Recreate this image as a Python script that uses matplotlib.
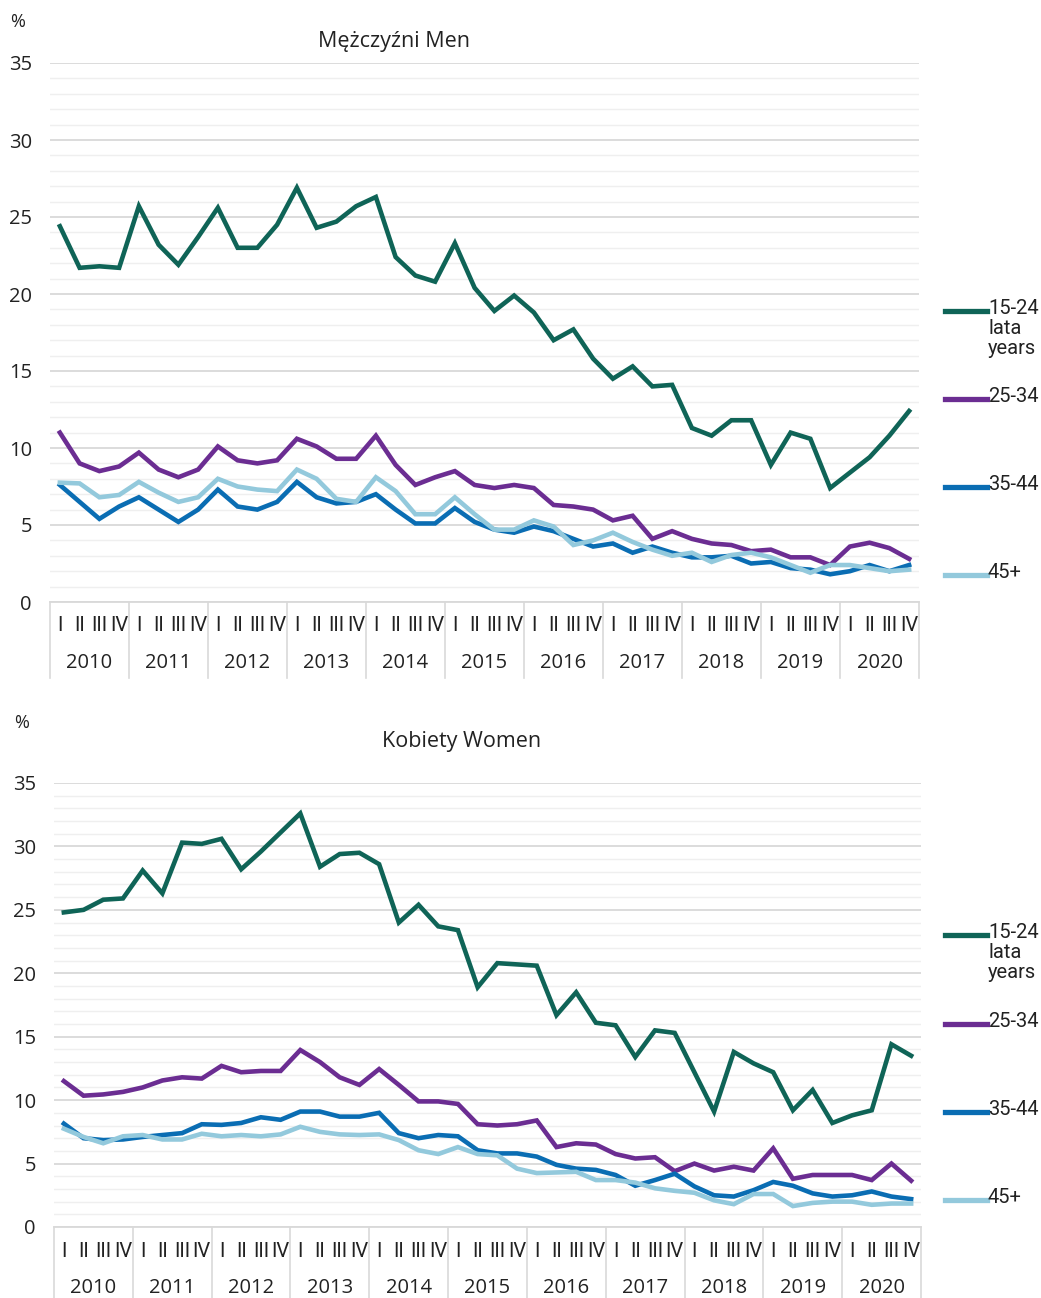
import numpy as np
import matplotlib
matplotlib.use('Agg')
import matplotlib.pyplot as plt
from matplotlib.lines import Line2D
from matplotlib.transforms import blended_transform_factory

plt.rcParams['font.family'] = ['Open Sans', 'DejaVu Sans']

years = ['2010', '2011', '2012', '2013', '2014', '2015', '2016', '2017', '2018', '2019', '2020']
quarters = ['I', 'II', 'III', 'IV']
groups = ['15-24\nlata\nyears', '25-34', '35-44', '45+']
colors = ['#0f6457', '#6b2d92', '#0a6db3', '#93c9dc']

# Mężczyźni / Men
men_15_24 = [24.4, 21.7, 21.8, 21.7, 25.7, 23.2, 21.9, 23.7, 25.6, 23.0, 23.0, 24.5,
             26.9, 24.3, 24.7, 25.7, 26.3, 22.4, 21.2, 20.8, 23.3, 20.4, 18.9, 19.9,
             18.8, 17.0, 17.7, 15.8, 14.5, 15.3, 14.0, 14.1, 11.3, 10.8, 11.8, 11.8,
             8.9, 11.0, 10.6, 7.4, 8.4, 9.4, 10.8, 12.4]
men_25_34 = [11.0, 9.0, 8.5, 8.8, 9.7, 8.6, 8.1, 8.6, 10.1, 9.2, 9.0, 9.2,
             10.6, 10.1, 9.3, 9.3, 10.8, 8.9, 7.6, 8.1, 8.5, 7.6, 7.4, 7.6,
             7.4, 6.3, 6.2, 6.0, 5.3, 5.6, 4.1, 4.6, 4.1, 3.8, 3.7, 3.3,
             3.4, 2.9, 2.9, 2.4, 3.6, 3.85, 3.5, 2.8]
men_35_44 = [7.6, 6.5, 5.4, 6.2, 6.8, 6.0, 5.2, 6.0, 7.3, 6.2, 6.0, 6.5,
             7.8, 6.8, 6.4, 6.5, 7.0, 6.0, 5.1, 5.1, 6.1, 5.2, 4.7, 4.5,
             4.9, 4.6, 4.1, 3.6, 3.8, 3.2, 3.6, 3.2, 2.9, 2.9, 3.0, 2.5,
             2.6, 2.2, 2.1, 1.8, 2.0, 2.4, 2.0, 2.4]
men_45 = [7.75, 7.7, 6.8, 6.95, 7.8, 7.1, 6.5, 6.8, 8.0, 7.5, 7.3, 7.2,
          8.6, 8.0, 6.7, 6.5, 8.1, 7.2, 5.7, 5.7, 6.8, 5.7, 4.7, 4.7,
          5.3, 4.9, 3.7, 4.0, 4.5, 3.9, 3.4, 3.0, 3.2, 2.6, 3.05, 3.2,
          2.9, 2.4, 1.9, 2.4, 2.4, 2.2, 2.0, 2.1]

# Kobiety / Women
women_15_24 = [24.8, 25.0, 25.8, 25.9, 28.1, 26.3, 30.3, 30.2, 30.6, 28.2, 29.6, 31.1,
               32.6, 28.4, 29.4, 29.5, 28.6, 24.0, 25.4, 23.7, 23.4, 18.9, 20.8, 20.7,
               20.6, 16.7, 18.5, 16.1, 15.9, 13.4, 15.5, 15.3, 12.2, 9.1, 13.8, 12.9,
               12.2, 9.2, 10.8, 8.2, 8.8, 9.2, 14.4, 13.5]
women_25_34 = [11.5, 10.35, 10.45, 10.65, 11.0, 11.55, 11.8, 11.7, 12.7, 12.2, 12.3, 12.3,
               13.95, 13.0, 11.8, 11.2, 12.45, 11.2, 9.9, 9.9, 9.7, 8.1, 8.0, 8.1,
               8.4, 6.3, 6.6, 6.5, 5.75, 5.4, 5.5, 4.4, 5.0, 4.45, 4.75, 4.45,
               6.2, 3.8, 4.1, 4.1, 4.1, 3.7, 5.0, 3.65]
women_35_44 = [8.15, 7.0, 6.85, 6.9, 7.1, 7.25, 7.4, 8.1, 8.05, 8.2, 8.65, 8.45,
               9.1, 9.1, 8.7, 8.7, 9.0, 7.4, 7.0, 7.25, 7.15, 6.05, 5.8, 5.8,
               5.55, 4.9, 4.6, 4.5, 4.1, 3.25, 3.7, 4.2, 3.2, 2.5, 2.4, 2.9,
               3.55, 3.25, 2.65, 2.4, 2.5, 2.8, 2.4, 2.2]
women_45 = [7.75, 7.1, 6.6, 7.15, 7.25, 6.9, 6.9, 7.35, 7.15, 7.25, 7.15, 7.3,
            7.9, 7.5, 7.3, 7.25, 7.3, 6.85, 6.05, 5.75, 6.3, 5.75, 5.65, 4.6,
            4.25, 4.3, 4.35, 3.7, 3.7, 3.5, 3.05, 2.85, 2.7, 2.1, 1.8, 2.6,
            2.6, 1.65, 1.9, 2.0, 2.0, 1.75, 1.85, 1.85]

W, H = 1041, 1298
fig = plt.figure(figsize=(W / 100, H / 100), dpi=100)
fig.patch.set_facecolor('white')


def panel(rect, series, title, title_xy, pct_xy, qy, yy, sep, legend_y):
    ax = fig.add_axes(rect)
    x = np.arange(len(series[0]))
    for vals, c in zip(series, colors):
        ax.plot(x, vals, color=c, lw=3.3, solid_joinstyle='miter', zorder=3)
    ax.set_xlim(-0.5, len(x) - 0.5)
    ax.set_ylim(0, 35)
    ax.set_yticks(np.arange(0, 36, 5))
    ax.set_yticks(np.arange(0, 36, 1), minor=True)
    ax.grid(which='major', axis='y', color='#d9d9d9', lw=1.3, zorder=1)
    ax.grid(which='minor', axis='y', color='#efefef', lw=1, zorder=0)
    ax.tick_params(axis='y', which='both', length=0, pad=13, labelsize=14.5, labelcolor='#222222')
    ax.set_xticks(x)
    ax.set_xticklabels(quarters * len(years))
    ax.tick_params(axis='x', length=0, pad=0, labelsize=14.5, labelcolor='#222222')
    for lab in ax.get_xticklabels():
        lab.set_y(qy)
        lab.set_verticalalignment('center')
        lab.set_family('Roboto')
    for s in ['top', 'right', 'left']:
        ax.spines[s].set_visible(False)
    ax.spines['bottom'].set_color('#d9d9d9')
    ax.spines['bottom'].set_linewidth(1.3)
    tr = blended_transform_factory(ax.transData, ax.transAxes)
    for k, yr in enumerate(years):
        ax.text(4 * k + 1.5, yy, yr, transform=tr, ha='center', va='center',
                fontsize=14.5, color='#222222')
    for k in range(len(years) + 1):
        ax.plot([4 * k - 0.5] * 2, [0, sep], transform=tr, color='#d9d9d9',
                lw=1.2, clip_on=False)
    fig.text(title_xy[0] / W, 1 - title_xy[1] / H, title, ha='center', va='center',
             fontsize=15.5, color='#222222')
    fig.text(pct_xy[0] / W, 1 - pct_xy[1] / H, '%', ha='left', va='center',
             fontsize=13, color='#222222')
    for g, c, ly in zip(groups, colors, legend_y):
        yf = 1 - ly / H
        fig.add_artist(Line2D([945 / W, 987 / W], [yf, yf], transform=fig.transFigure,
                              color=c, lw=3.8))
        fig.text(988 / W, 1 - (ly - 12) / H, g, ha='left', va='top', fontsize=14.5,
                 color='#222222', family='Roboto', linespacing=1.05)
    return ax


panel([50 / W, 1 - 602 / H, 869 / W, 539 / H],
      [men_15_24, men_25_34, men_35_44, men_45], 'Mężczyźni Men',
      (394, 42), (10, 22), -0.043, -0.113, -0.141, [311, 399, 487, 575])
panel([54 / W, 1 - 1227 / H, 867 / W, 444 / H],
      [women_15_24, women_25_34, women_35_44, women_45], 'Kobiety Women',
      (462, 741), (14, 723), -0.056, -0.137, -0.165, [935, 1024, 1112, 1200])

fig.savefig('out.png', dpi=100, facecolor='white')
